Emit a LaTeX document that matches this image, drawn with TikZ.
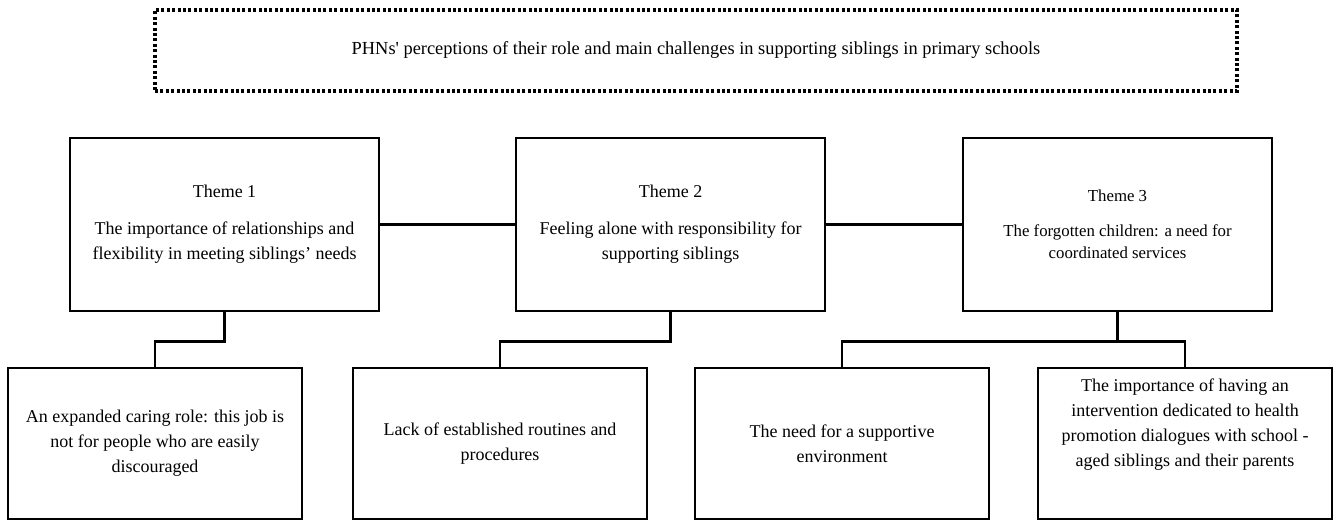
\documentclass[tikz,border=0pt]{standalone}
\usepackage{fontspec}
\setmainfont{Liberation Serif}
\newfontfamily\rawserif{Liberation Serif}
\usetikzlibrary{positioning}

\begin{document}
\begin{tikzpicture}[x=0.5pt,y=0.5pt,yscale=-1,
  themebox/.style={draw,line width=1.45pt,rectangle,minimum width=154.5pt,minimum height=86.5pt,align=center,inner sep=0pt,font=\fontsize{9}{12.5}\selectfont},
  subbox/.style={draw,line width=1.45pt,rectangle,minimum width=147pt,minimum height=75.5pt,align=center,inner sep=0pt,font=\fontsize{9}{12.5}\selectfont},
  titlebox/.style={draw,line width=1.6pt,dash pattern=on 1.5pt off 1.2pt,rectangle,minimum width=541pt,minimum height=40.5pt,inner sep=0pt,font=\fontsize{9.2}{12.5}\selectfont},
  link/.style={line width=1.45pt}]
\useasboundingbox (0,0) rectangle (1338,521);

%Title
\node[titlebox] (title) at (696,50.5) {PHNs{\rawserif'} perceptions of their role and main challenges in supporting siblings in primary schools};

%Themes
\node[themebox] (t1) at (224.5,224.5) {Theme 1\\[6pt]The importance of relationships and\\flexibility in meeting siblings’ needs};
\node[themebox] (t2) at (670.5,224.5) {Theme 2\\[6pt]Feeling alone with responsibility for\\supporting siblings};
\node[themebox,font=\fontsize{8.4}{11.2}\selectfont] (t3) at (1117.5,224.5) {Theme 3\\[6pt]The forgotten children: a need for\\coordinated services};

%Subthemes
\node[subbox] (s1) at (155,443.5) {An expanded caring role: this job is\\not for people who are easily\\discouraged};
\node[subbox] (s2) at (500,443.5) {Lack of established routines and\\procedures};
\node[subbox] (s3) at (842,443.5) {The need for a supportive\\environment};
\node[subbox] (s4) at (1185,443.5) {The importance of having an\\intervention dedicated to health\\promotion dialogues with school -\\aged siblings and their parents\\[8pt]\mbox{}};

%Links
\draw[link] (t1.east) -- (t2.west);
\draw[link] (t2.east) -- (t3.west);
\draw[link] (t1.south) -- ++(0,29) -| (s1.north);
\draw[link] (t2.south) -- ++(0,29) -| (s2.north);
\draw[link] (t3.south) -- ++(0,29) coordinate (j3);
\draw[link] (s3.north) |- (j3) -| (s4.north);

\end{tikzpicture}
\end{document}
